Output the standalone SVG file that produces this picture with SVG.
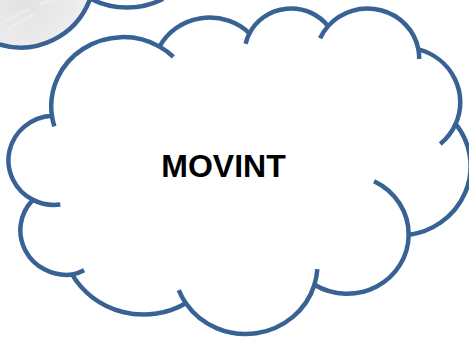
<svg xmlns="http://www.w3.org/2000/svg" width="469" height="338" viewBox="0 0 469 338">
  <style>
    .outline { fill: #ffffff; stroke: #386293; stroke-width: 4.5; stroke-linejoin: round; stroke-linecap: butt; }
    .tail { fill: none; stroke: #386293; stroke-width: 4.5; stroke-linecap: butt; }
    .label { font-family: "Liberation Sans", Arial, sans-serif; font-weight: bold; font-size: 32px; fill: #000000; }
  </style>
  <defs>
    <radialGradient id="photoFade" cx="25" cy="0" r="80" gradientUnits="userSpaceOnUse">
      <stop offset="0" stop-color="#e2e2e2"/>
      <stop offset="0.6" stop-color="#ececec"/>
      <stop offset="1" stop-color="#f8f8f8"/>
    </radialGradient>
  </defs>
  <rect width="469" height="338" fill="#ffffff"/>

  <g id="cloud-top-left">
    <path d="M -5 -5 L -5 44 L 0 44 A 74 74 0 0 0 90 -1 L 90 -5 Z" fill="url(#photoFade)"/>
    <path d="M 4 22 L 30 8 M 6 30 L 34 14 M 40 4 L 56 -2" fill="none" stroke="#f4f4f4" stroke-width="3" opacity="0.45"/>
    <path class="tail" d="M -2 44 A 74 74 0 0 0 90 -1"/>
    <path class="tail" d="M 91 -1 A 80 80 0 0 0 163 -1"/>
  </g>

  <g id="cloud-movint">
    <path class="outline" d="M 51.90 115.68
      A 71.91 69.22 0 0 1 159.50 46.62
      A 56.79 54.74 0 0 1 249.49 33.29
      A 46.48 44.78 0 0 1 328.04 26.13
      A 51.72 49.67 0 0 1 418.39 49.44
      A 56.79 54.78 0 0 1 455.67 123.88
      A 72.14 69.45 0 0 1 408.66 234.93
      A 61.60 59.25 0 0 1 314.44 284.72
      A 71.90 69.41 0 0 1 185.86 303.18
      A 82.20 79.41 0 0 1 72.19 274.60
      A 46.43 44.57 0 0 1 32.88 199.87
      A 46.27 44.78 0 0 1 51.90 115.68 Z"/>
    <path class="tail" d="M 60.34 204.60 A 46.27 44.78 0 0 1 32.88 199.87
      M 84.14 270.30 A 46.43 44.57 0 0 1 72.19 274.60
      M 185.86 303.18 A 71.90 69.41 0 0 1 178.75 290.07
      M 317.33 269.19 A 71.90 69.41 0 0 1 314.44 284.72
      M 374.04 181.19 A 61.60 59.25 0 0 1 408.66 234.93
      M 455.67 123.88 A 56.79 54.78 0 0 1 440.24 144.03
      M 418.39 49.44 A 51.72 49.67 0 0 1 419.20 59.06
      M 320.13 38.28 A 51.72 49.67 0 0 1 328.04 26.13
      M 245.66 43.76 A 46.48 44.78 0 0 1 249.49 33.29
      M 159.50 46.62 A 71.91 69.22 0 0 1 173.34 56.78
      M 54.31 126.36 A 71.91 69.22 0 0 1 51.90 115.68"/>
    <text class="label" x="223.5" y="177" text-anchor="middle">MOVINT</text>
  </g>

  <g id="connectors"/>
</svg>
